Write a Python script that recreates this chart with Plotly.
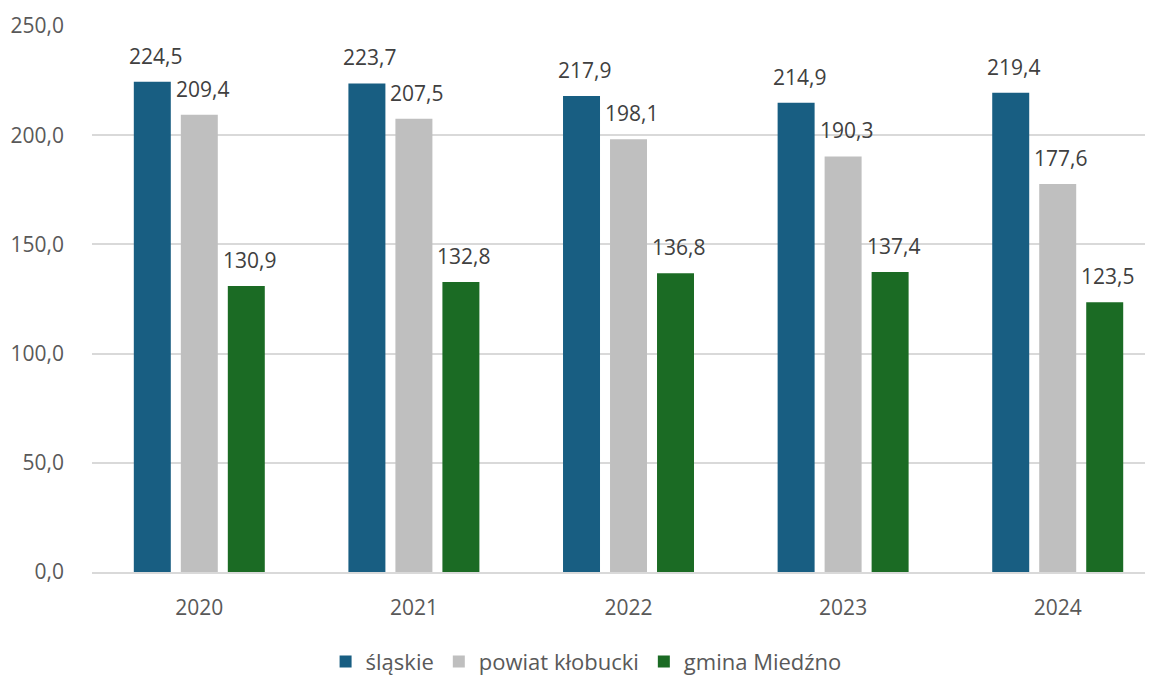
import plotly.graph_objects as go

years = ["2020", "2021", "2022", "2023", "2024"]
slaskie = [224.5, 223.7, 217.9, 214.9, 219.4]
powiat = [209.4, 207.5, 198.1, 190.3, 177.6]
gmina = [130.9, 132.8, 136.8, 137.4, 123.5]

series = [
    ("śląskie", slaskie, "#185e82"),
    ("powiat kłobucki", powiat, "#bfbfbf"),
    ("gmina Miedźno", gmina, "#1b6b24"),
]

FONT = "Open Sans"
FS = 21
SLOT = 47  # px per bar slot within a group

fig = go.Figure()
annotations = []
for i, (name, vals, col) in enumerate(series):
    fig.add_trace(go.Bar(
        x=years, y=vals, name=name, marker_color=col, marker_line_width=0,
    ))
    for k, v in enumerate(vals):
        annotations.append(dict(
            x=k, y=v, xref="x", yref="y", text=f"{v:.1f}".replace(".", ","),
            showarrow=False, xanchor="center", yanchor="bottom",
            xshift=(i - 1) * SLOT + 3, yshift=10,
            font=dict(family=FONT, size=FS, color="#404040"),
        ))

fig.update_layout(
    width=1145, height=667,
    margin=dict(l=84, r=3, t=18, b=103),
    paper_bgcolor="white", plot_bgcolor="white",
    barmode="group", bargap=0.343, bargroupgap=0.213,
    separators=", ",
    font=dict(family=FONT, size=FS, color="#595959"),
    showlegend=True,
    annotations=annotations,
    legend=dict(orientation="h", x=0.467, xanchor="center",
                yref="container", y=0.02, yanchor="middle",
                font=dict(family=FONT, size=22, color="#595959"),
                itemwidth=30, traceorder="normal"),
    xaxis=dict(type="category", range=[-0.5, 4.43], showgrid=False, showline=True,
               linecolor="#d9d9d9", linewidth=1.5, ticks="", ticklabelstandoff=16,
               tickfont=dict(family=FONT, size=FS, color="#595959")),
    yaxis=dict(range=[0, 250], dtick=50, tickformat=".1f", showgrid=True,
               gridcolor="#d9d9d9", gridwidth=1.5, zeroline=False, showline=False,
               ticks="", ticklabelstandoff=27,
               tickfont=dict(family=FONT, size=FS, color="#595959")),
)

fig.write_html("out.html")
